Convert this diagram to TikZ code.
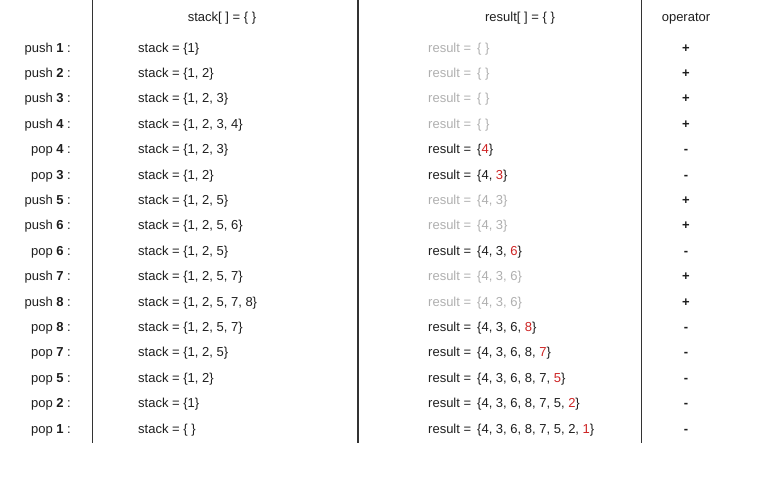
\documentclass[tikz,border=0pt]{standalone}
\usepackage{fontspec}
\setmainfont{Liberation Sans}
\usetikzlibrary{positioning}
\definecolor{txt}{RGB}{30,30,30}
\definecolor{faint}{RGB}{175,175,175}
\definecolor{hot}{RGB}{205,35,35}
\newcommand{\rd}[1]{\textcolor{hot}{#1}}
\tikzset{
  base/.style={inner sep=0pt, font=\fontsize{13}{15}\selectfont, text=txt, anchor=base},
  lab/.style={base, anchor=base east},
  stk/.style={base, anchor=base west},
  res/.style={base, anchor=base west},
  resg/.style={base, anchor=base west, text=faint},
  op/.style={base, font=\fontsize{13}{15}\selectfont\bfseries},
  hdr/.style={base},
  rule/.style={line width=1.2pt, draw=black!80}
}
\begin{document}
\begin{tikzpicture}[x=1pt,y=-1pt]
\useasboundingbox (0,0) rectangle (763,477);
\coordinate (l1t) at (92.5,0); \coordinate (l1b) at (92.5,443);
\coordinate (l2t) at (358,0); \coordinate (l2b) at (358,443);
\coordinate (l3t) at (641.5,0); \coordinate (l3b) at (641.5,443);
\draw[rule] (l1t) -- (l1b);
\draw[rule] (l2t) -- (l2b);
\draw[rule] (l3t) -- (l3b);
\node[hdr] (h1) at (222,21) {stack[ ] = \{ \}};
\node[hdr] (h2) at (520,21) {result[ ] = \{ \}};
\node[hdr] (h3) at (686,21) {operator};
% rows
\node[lab] (a1) at (71,52) {push \textbf{1} :};
\node[stk] (s1) at (138,52) {stack = \{1\}};
\node[resg] (r1) at (428,52) {result =\hspace{6pt}\{ \}};
\node[op] (o1) at (686,52) {+};
\node[lab] (a2) at (71,77.4) {push \textbf{2} :};
\node[stk] (s2) at (138,77.4) {stack = \{1, 2\}};
\node[resg] (r2) at (428,77.4) {result =\hspace{6pt}\{ \}};
\node[op] (o2) at (686,77.4) {+};
\node[lab] (a3) at (71,102.8) {push \textbf{3} :};
\node[stk] (s3) at (138,102.8) {stack = \{1, 2, 3\}};
\node[resg] (r3) at (428,102.8) {result =\hspace{6pt}\{ \}};
\node[op] (o3) at (686,102.8) {+};
\node[lab] (a4) at (71,128.2) {push \textbf{4} :};
\node[stk] (s4) at (138,128.2) {stack = \{1, 2, 3, 4\}};
\node[resg] (r4) at (428,128.2) {result =\hspace{6pt}\{ \}};
\node[op] (o4) at (686,128.2) {+};
\node[lab] (a5) at (71,153.6) {pop \textbf{4} :};
\node[stk] (s5) at (138,153.6) {stack = \{1, 2, 3\}};
\node[res] (r5) at (428,153.6) {result =\hspace{6pt}\{\rd{4}\}};
\node[op] (o5) at (686,153.6) {-};
\node[lab] (a6) at (71,179) {pop \textbf{3} :};
\node[stk] (s6) at (138,179) {stack = \{1, 2\}};
\node[res] (r6) at (428,179) {result =\hspace{6pt}\{4, \rd{3}\}};
\node[op] (o6) at (686,179) {-};
\node[lab] (a7) at (71,204.4) {push \textbf{5} :};
\node[stk] (s7) at (138,204.4) {stack = \{1, 2, 5\}};
\node[resg] (r7) at (428,204.4) {result =\hspace{6pt}\{4, 3\}};
\node[op] (o7) at (686,204.4) {+};
\node[lab] (a8) at (71,229.8) {push \textbf{6} :};
\node[stk] (s8) at (138,229.8) {stack = \{1, 2, 5, 6\}};
\node[resg] (r8) at (428,229.8) {result =\hspace{6pt}\{4, 3\}};
\node[op] (o8) at (686,229.8) {+};
\node[lab] (a9) at (71,255.2) {pop \textbf{6} :};
\node[stk] (s9) at (138,255.2) {stack = \{1, 2, 5\}};
\node[res] (r9) at (428,255.2) {result =\hspace{6pt}\{4, 3, \rd{6}\}};
\node[op] (o9) at (686,255.2) {-};
\node[lab] (a10) at (71,280.6) {push \textbf{7} :};
\node[stk] (s10) at (138,280.6) {stack = \{1, 2, 5, 7\}};
\node[resg] (r10) at (428,280.6) {result =\hspace{6pt}\{4, 3, 6\}};
\node[op] (o10) at (686,280.6) {+};
\node[lab] (a11) at (71,306) {push \textbf{8} :};
\node[stk] (s11) at (138,306) {stack = \{1, 2, 5, 7, 8\}};
\node[resg] (r11) at (428,306) {result =\hspace{6pt}\{4, 3, 6\}};
\node[op] (o11) at (686,306) {+};
\node[lab] (a12) at (71,331.4) {pop \textbf{8} :};
\node[stk] (s12) at (138,331.4) {stack = \{1, 2, 5, 7\}};
\node[res] (r12) at (428,331.4) {result =\hspace{6pt}\{4, 3, 6, \rd{8}\}};
\node[op] (o12) at (686,331.4) {-};
\node[lab] (a13) at (71,356.8) {pop \textbf{7} :};
\node[stk] (s13) at (138,356.8) {stack = \{1, 2, 5\}};
\node[res] (r13) at (428,356.8) {result =\hspace{6pt}\{4, 3, 6, 8, \rd{7}\}};
\node[op] (o13) at (686,356.8) {-};
\node[lab] (a14) at (71,382.2) {pop \textbf{5} :};
\node[stk] (s14) at (138,382.2) {stack = \{1, 2\}};
\node[res] (r14) at (428,382.2) {result =\hspace{6pt}\{4, 3, 6, 8, 7, \rd{5}\}};
\node[op] (o14) at (686,382.2) {-};
\node[lab] (a15) at (71,407.6) {pop \textbf{2} :};
\node[stk] (s15) at (138,407.6) {stack = \{1\}};
\node[res] (r15) at (428,407.6) {result =\hspace{6pt}\{4, 3, 6, 8, 7, 5, \rd{2}\}};
\node[op] (o15) at (686,407.6) {-};
\node[lab] (a16) at (71,433) {pop \textbf{1} :};
\node[stk] (s16) at (138,433) {stack = \{ \}};
\node[res] (r16) at (428,433) {result =\hspace{6pt}\{4, 3, 6, 8, 7, 5, 2, \rd{1}\}};
\node[op] (o16) at (686,433) {-};
\end{tikzpicture}
\end{document}
